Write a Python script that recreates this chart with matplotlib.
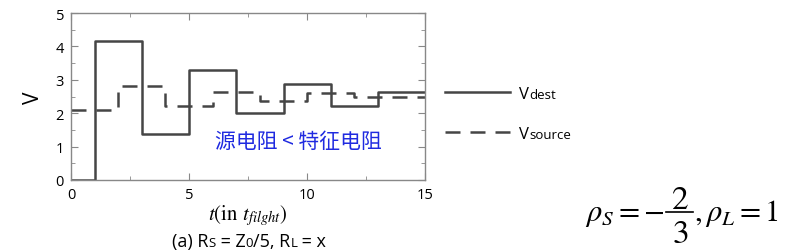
import matplotlib
matplotlib.use("Agg")
import matplotlib.pyplot as plt
import numpy as np
from matplotlib.lines import Line2D
from matplotlib.ticker import MultipleLocator

# step values (in units of t_flight)
t_dest = [0, 1, 3, 5, 7, 9, 11, 13, 15]
v_dest = [0, 4.15, 1.37, 3.28, 2.0, 2.88, 2.22, 2.64, 2.64]
t_source = [0, 2, 4, 6, 8, 10, 12, 14, 15]
v_source = [2.1, 2.8, 2.23, 2.64, 2.36, 2.62, 2.48, 2.48, 2.48]

x_ticks = [0, 5, 10, 15]
y_ticks = [0, 1, 2, 3, 4, 5]
line_col = "#454545"

plt.rcParams['mathtext.fontset'] = 'stix'

fig = plt.figure(figsize=(8.05, 2.51), dpi=100)
ax = fig.add_axes([0.0882, 0.279, 0.44, 0.665])

ax.step(t_dest, v_dest, where='post', color=line_col, lw=1.8)
ax.step(t_source, v_source, where='post', color=line_col, lw=1.8,
        dashes=(6, 4))

ax.set_xlim(0, 15)
ax.set_ylim(0, 5)
ax.set_xticks(x_ticks)
ax.set_yticks(y_ticks)
ax.xaxis.set_minor_locator(MultipleLocator(2.5))
ax.yaxis.set_minor_locator(MultipleLocator(0.5))
ax.tick_params(which='both', direction='in', top=True, right=True,
               color='#888888', labelsize=10.5)
ax.tick_params(which='major', length=5, pad=5)
ax.tick_params(which='minor', length=3)
for lab in ax.get_xticklabels() + ax.get_yticklabels():
    lab.set_family('Open Sans')
for s in ax.spines.values():
    s.set_color('#888888')
    s.set_linewidth(1.0)

ax.set_ylabel('V', fontsize=15, family='Open Sans', labelpad=8)
ax.set_xlabel(r'$t$(in $t_{filght}$)', fontsize=15, family='STIXGeneral',
              labelpad=0)

ax.text(0.643, 0.235, '源电阻 < 特征电阻',
        transform=ax.transAxes, color='#1f2ae0', fontsize=15,
        ha='center', va='center',
        family=['Noto Sans CJK SC', 'DejaVu Sans'])

# legend outside the axes
fig.add_artist(Line2D([445 / 805, 510 / 805], [1 - 93 / 251] * 2,
                      color=line_col, lw=1.8))
fig.add_artist(Line2D([445 / 805, 510 / 805], [1 - 133 / 251] * 2,
                      color=line_col, lw=1.8, dashes=(6, 4)))


def piece_text(x, y, pieces, ha='left'):
    # place pieces of text next to each other with their own sizes
    r = fig.canvas.get_renderer()
    arts = []
    xx = x
    for s, size in pieces:
        t = fig.text(xx, y, s, fontsize=size, family='Open Sans',
                     va='baseline')
        w = t.get_window_extent(r).width / fig.bbox.width
        xx += w
        arts.append(t)
    if ha == 'center':
        shift = (xx - x) / 2
        for t in arts:
            px, py = t.get_position()
            t.set_position((px - shift, py))


piece_text(519 / 805, 1 - 99 / 251, [('V', 12), ('dest', 9.5)])
piece_text(519 / 805, 1 - 139 / 251, [('V', 12), ('source', 9.5)])
piece_text(249 / 805, 1 - 247 / 251,
           [('(a) R', 13), ('S', 9.5), (' = Z', 13), ('0', 9.5),
            ('/5, R', 13), ('L', 9.5), (' = x', 13)], ha='center')

# reflection coefficients, fraction built by hand so it is full size
base = 1 - 221 / 251
fig.text(664 / 805, base, r'$\rho_S=-$', fontsize=22, ha='right',
         va='baseline')
fig.text(680 / 805, 1 - 209 / 251, r'$2$', fontsize=24, ha='center',
         va='baseline')
fig.text(680 / 805, 1 - 243 / 251, r'$3$', fontsize=24, ha='center',
         va='baseline')
fig.add_artist(Line2D([666 / 805, 693 / 805], [1 - 213 / 251] * 2,
                      color='black', lw=1.2))
fig.text(694 / 805, base, r'$,\rho_L=1$', fontsize=22, ha='left',
         va='baseline')

fig.savefig('out.png', dpi=100)
